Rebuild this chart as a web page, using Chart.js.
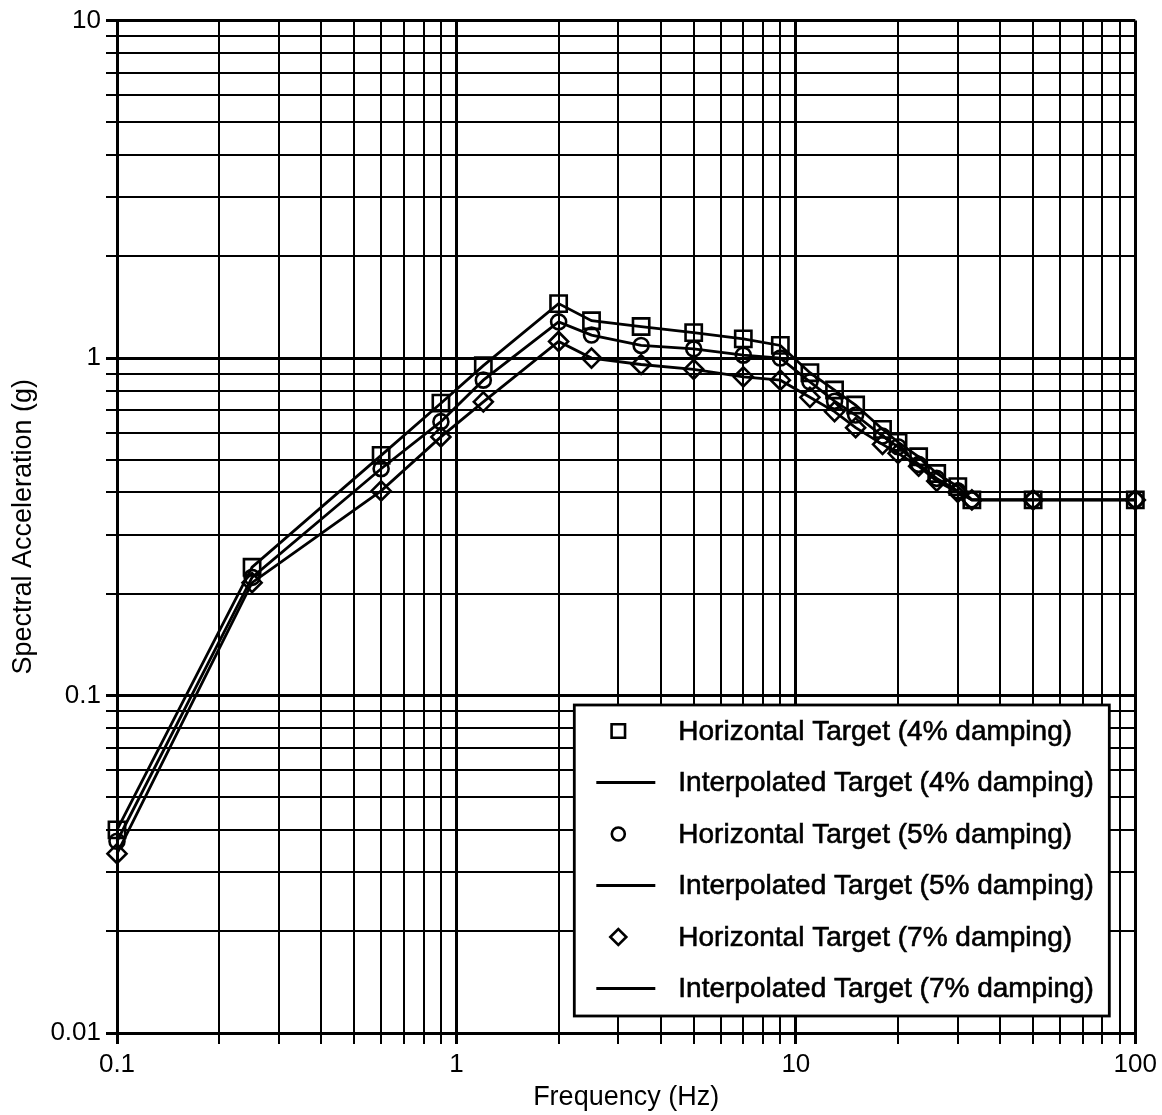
<!DOCTYPE html>
<html>
<head>
<meta charset="utf-8">
<script src="https://cdn.jsdelivr.net/npm/chart.js@4/dist/chart.umd.min.js"></script>
<style>
  html, body { margin: 0; padding: 0; background: #fff; }
  #wrap { width: 1162px; height: 1115px; }
</style>
</head>
<body>
<div id="wrap"><canvas id="chart" width="1162" height="1115"></canvas></div>
<script>
// Response spectrum: frequency (Hz) vs spectral acceleration (g)
const frequencies = [0.1, 0.25, 0.6, 0.9, 1.2, 2.0, 2.5, 3.5, 5, 7, 9, 11, 13, 15, 18, 20, 23, 26, 30, 33, 50, 100];
const target4 = [0.040, 0.240, 0.515, 0.735, 0.950, 1.45, 1.29, 1.24, 1.19, 1.14, 1.09, 0.905, 0.804, 0.726, 0.615, 0.563, 0.510, 0.455, 0.416, 0.380, 0.380, 0.380];
const target5 = [0.037, 0.224, 0.470, 0.648, 0.860, 1.28, 1.17, 1.09, 1.065, 1.02, 1.00, 0.850, 0.745, 0.678, 0.587, 0.546, 0.484, 0.440, 0.404, 0.380, 0.380, 0.380];
const target7 = [0.034, 0.216, 0.404, 0.584, 0.742, 1.12, 1.00, 0.957, 0.926, 0.880, 0.860, 0.765, 0.694, 0.622, 0.555, 0.522, 0.478, 0.432, 0.400, 0.380, 0.380, 0.380];

const seriesLabels = [
  'Horizontal Target (4% damping)',
  'Interpolated Target (4% damping)',
  'Horizontal Target (5% damping)',
  'Interpolated Target (5% damping)',
  'Horizontal Target (7% damping)',
  'Interpolated Target (7% damping)'
];

const xMajorTicks = [0.1, 1, 10, 100];
const xTickLabels = ['0.1', '1', '10', '100'];
const yMajorTicks = [0.01, 0.1, 1, 10];
const yTickLabels = ['0.01', '0.1', '1', '10'];

const FONT = "'Liberation Sans', Arial, Helvetica, sans-serif";

function toPoints(values) {
  return frequencies.map((f, i) => ({ x: f, y: values[i] }));
}

// every 1..9 multiple inside each decade, used for the full log grid
function decadeGrid(min, max) {
  const out = [];
  const e0 = Math.floor(Math.log10(min) + 1e-9);
  const e1 = Math.ceil(Math.log10(max) - 1e-9);
  for (let e = e0; e <= e1; e++) {
    for (let m = 1; m <= 9; m++) {
      const v = Number((m * Math.pow(10, e)).toPrecision(8));
      if (v >= min * 0.9999 && v <= max * 1.0001) out.push(v);
    }
  }
  return out;
}

function majorIndex(list, v) {
  return list.findIndex(m => Math.abs(Math.log10(m) - Math.log10(v)) < 1e-6);
}

function markerSet(label, values, style, radius) {
  return {
    label, data: toPoints(values), showLine: false,
    pointStyle: style, pointRadius: radius, pointHoverRadius: radius,
    pointBorderColor: '#000', pointBackgroundColor: 'rgba(255,255,255,0)',
    pointBorderWidth: 2.6, borderColor: '#000', backgroundColor: 'rgba(255,255,255,0)',
    clip: false, order: 0
  };
}

function lineSet(label, values) {
  return {
    label, data: toPoints(values), showLine: true,
    borderColor: '#000', borderWidth: 2.8, pointRadius: 0, pointHoverRadius: 0,
    backgroundColor: '#000', fill: false, tension: 0, clip: false, order: 1
  };
}

const datasets = [
  markerSet(seriesLabels[0], target4, 'rect', 11.5),
  lineSet(seriesLabels[1], target4),
  markerSet(seriesLabels[2], target5, 'circle', 7.5),
  lineSet(seriesLabels[3], target5),
  markerSet(seriesLabels[4], target7, 'rectRot', 9.5),
  lineSet(seriesLabels[5], target7)
];

// boxed legend drawn inside the lower-right corner of the plot
const boxedLegend = {
  id: 'boxedLegend',
  afterDatasetsDraw(chart, args, opts) {
    const { ctx, chartArea } = chart;
    const w = opts.width, h = opts.height;
    const x0 = chartArea.right - opts.right - w;
    const y0 = chartArea.bottom - opts.bottom - h;
    ctx.save();
    ctx.fillStyle = '#fff';
    ctx.fillRect(x0, y0, w, h);
    ctx.lineWidth = 2.8;
    ctx.strokeStyle = '#000';
    ctx.strokeRect(x0, y0, w, h);
    ctx.font = opts.fontSize + 'px ' + FONT;
    ctx.textBaseline = 'middle';
    ctx.textAlign = 'left';
    chart.data.datasets.forEach((ds, i) => {
      const cy = y0 + opts.firstRow + i * opts.rowGap;
      if (ds.showLine) {
        ctx.beginPath();
        ctx.lineWidth = 2.8;
        ctx.strokeStyle = '#000';
        ctx.moveTo(x0 + opts.lineStart, cy);
        ctx.lineTo(x0 + opts.lineEnd, cy);
        ctx.stroke();
      } else {
        ctx.lineWidth = 2.6;
        ctx.strokeStyle = '#000';
        ctx.fillStyle = 'rgba(255,255,255,0)';
        Chart.helpers.drawPoint(ctx, {
          pointStyle: ds.pointStyle, radius: opts.markerRadius[ds.pointStyle],
          borderWidth: 2.6, rotation: 0
        }, x0 + opts.markerX, cy);
      }
      ctx.fillStyle = '#000';
      ctx.strokeStyle = '#000';
      ctx.lineWidth = 0.6;
      ctx.fillText(ds.label, x0 + opts.textX, cy + 1);
      ctx.strokeText(ds.label, x0 + opts.textX, cy + 1);
    });
    ctx.restore();
  }
};

const gridWidth = (list) => (c) => (c.tick && majorIndex(list, c.tick.value) >= 0 ? 3 : 2);

new Chart(document.getElementById('chart'), {
  type: 'scatter',
  data: { datasets },
  plugins: [boxedLegend],
  options: {
    responsive: false,
    animation: false,
    events: [],
    layout: { padding: { top: 20, right: 25, left: 0, bottom: 0 } },
    plugins: {
      legend: { display: false },
      tooltip: { enabled: false },
      boxedLegend: {
        width: 535, height: 311, right: 26, bottom: 17,
        firstRow: 26, rowGap: 51.5,
        markerX: 44, lineStart: 22, lineEnd: 81, textX: 104,
        fontSize: 28,
        markerRadius: { rect: 9.5, circle: 6.5, rectRot: 8 }
      }
    },
    scales: {
      x: {
        type: 'logarithmic', min: 0.1, max: 100,
        afterBuildTicks: (s) => { s.ticks = decadeGrid(0.1, 100).map(v => ({ value: v })); },
        afterFit: (s) => { s.height = 82; },
        ticks: {
          autoSkip: false, maxRotation: 0, minRotation: 0, padding: 5,
          color: '#000', font: { family: FONT, size: 26 },
          callback: (v) => { const i = majorIndex(xMajorTicks, v); return i >= 0 ? xTickLabels[i] : ''; }
        },
        grid: { color: '#000', lineWidth: gridWidth(xMajorTicks), tickLength: 11, drawTicks: true },
        border: { color: '#000', width: 3 },
        title: {
          display: true, text: 'Frequency (Hz)', color: '#000',
          font: { family: FONT, size: 27, lineHeight: 1.2 }, padding: { top: 0, bottom: 1 }
        }
      },
      y: {
        type: 'logarithmic', min: 0.01, max: 10,
        afterBuildTicks: (s) => { s.ticks = decadeGrid(0.01, 10).map(v => ({ value: v })); },
        afterFit: (s) => { s.width = 117; },
        ticks: {
          autoSkip: false, padding: 5,
          color: '#000', font: { family: FONT, size: 26 },
          callback: (v) => { const i = majorIndex(yMajorTicks, v); return i >= 0 ? yTickLabels[i] : ''; }
        },
        grid: { color: '#000', lineWidth: gridWidth(yMajorTicks), tickLength: 11, drawTicks: true },
        border: { color: '#000', width: 3 },
        title: {
          display: true, text: 'Spectral Acceleration (g)', color: '#000',
          font: { family: FONT, size: 27, lineHeight: 1.2 }, padding: { top: 7, bottom: 0 }
        }
      }
    }
  }
});
</script>
</body>
</html>
